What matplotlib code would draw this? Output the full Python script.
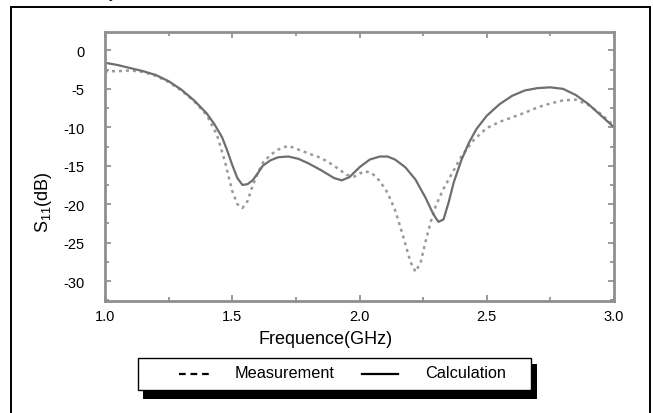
import matplotlib
matplotlib.use("Agg")
import matplotlib.pyplot as plt
from matplotlib.patches import Rectangle
from matplotlib.lines import Line2D
from matplotlib.ticker import MultipleLocator

plt.rcParams['font.family'] = ['Liberation Sans', 'DejaVu Sans']
plt.rcParams['mathtext.default'] = 'regular'
plt.rcParams['axes.unicode_minus'] = False

# S11 readings (GHz, dB)
calc_freq = [1.00, 1.05, 1.10, 1.15, 1.20, 1.25, 1.30, 1.35, 1.40, 1.43, 1.46,
             1.48, 1.50, 1.52, 1.54, 1.56, 1.58, 1.60, 1.62, 1.65, 1.68, 1.72,
             1.76, 1.80, 1.85, 1.90, 1.93, 1.96, 2.00, 2.04, 2.08, 2.11, 2.14,
             2.18, 2.22, 2.26, 2.29, 2.31, 2.33, 2.35, 2.37, 2.40, 2.43, 2.46,
             2.50, 2.55, 2.60, 2.65, 2.70, 2.75, 2.80, 2.85, 2.90, 2.95, 3.00]
calc_s11 = [-1.6, -1.9, -2.3, -2.7, -3.2, -4.0, -5.1, -6.5, -8.2, -9.6, -11.3,
            -13.0, -14.9, -16.6, -17.5, -17.4, -16.9, -16.0, -15.0, -14.3, -13.9, -13.8,
            -14.1, -14.7, -15.6, -16.6, -16.9, -16.5, -15.2, -14.2, -13.8, -13.8, -14.2,
            -15.2, -16.8, -19.2, -21.3, -22.3, -22.0, -19.8, -17.2, -14.3, -12.0, -10.2,
            -8.5, -7.0, -5.9, -5.2, -4.9, -4.8, -5.0, -5.8, -7.0, -8.5, -10.0]

meas_freq = [1.00, 1.05, 1.10, 1.15, 1.20, 1.25, 1.30, 1.35, 1.40, 1.44, 1.47,
             1.50, 1.52, 1.54, 1.56, 1.58, 1.60, 1.62, 1.65, 1.68, 1.72, 1.76,
             1.80, 1.85, 1.90, 1.95, 1.98, 2.02, 2.05, 2.08, 2.11, 2.14, 2.17,
             2.20, 2.22, 2.24, 2.26, 2.28, 2.30, 2.33, 2.36, 2.40, 2.45, 2.50,
             2.55, 2.60, 2.65, 2.70, 2.75, 2.80, 2.85, 2.90, 2.95, 3.00]
meas_s11 = [-2.7, -2.7, -2.6, -2.8, -3.3, -4.1, -5.2, -6.6, -8.4, -11.0, -14.3,
            -18.3, -20.0, -20.5, -19.6, -17.6, -16.0, -14.6, -13.6, -12.9, -12.4, -12.9,
            -13.4, -14.0, -15.0, -16.2, -16.4, -15.7, -16.0, -17.0, -18.5, -20.8, -24.0,
            -27.5, -28.8, -27.6, -24.8, -22.3, -20.2, -18.0, -16.2, -13.8, -11.6, -10.1,
            -9.3, -8.7, -8.1, -7.4, -6.9, -6.5, -6.4, -7.1, -8.3, -9.8]

x_ticks = [1.0, 1.5, 2.0, 2.5, 3.0]
y_ticks = [0, -5, -10, -15, -20, -25, -30]

W, H = 653, 414
fig = plt.figure(figsize=(W / 100, H / 100), dpi=100)

def fx(px):
    return px / W

def fy(py):
    return 1 - py / H

# outer frame (runs past the bottom edge)
fig.patches.append(Rectangle((fx(11), fy(430)), fx(650) - fx(11), fy(8) - fy(430),
                             transform=fig.transFigure, fill=False,
                             edgecolor='black', linewidth=1.4))
# bit of a caption above, cut off by the crop
fig.text(fx(113), 1.004, 'y', fontsize=12, va='baseline', ha='center')

ax = fig.add_axes([fx(105), fy(302), fx(614) - fx(105), fy(33) - fy(302)])

ax.plot(meas_freq, meas_s11, color='#9a9a9a', linestyle=(0, (1.2, 1.6)), linewidth=1.8)
ax.plot(calc_freq, calc_s11, color='#6e6e6e', linestyle='-', linewidth=1.6)

ax.set_xlim(1.0, 3.0)
ax.set_ylim(-32.6, 2.4)
ax.set_xticks(x_ticks)
ax.set_xticklabels([f'{t:.1f}' for t in x_ticks])
ax.set_yticks(y_ticks)
ax.set_yticklabels([str(t) for t in y_ticks])
ax.xaxis.set_minor_locator(MultipleLocator(0.25))
ax.yaxis.set_minor_locator(MultipleLocator(2.5))
ax.tick_params(which='both', direction='in', top=True, right=True,
               color='#8a8a8a', width=1.2, labelsize=10.5)
ax.tick_params(which='major', length=4)
ax.tick_params(which='minor', length=3)
ax.tick_params(axis='y', pad=15)
ax.tick_params(axis='x', pad=6)
for sp in ax.spines.values():
    sp.set_color('#8f8f8f')
    sp.set_linewidth(2.0)

fig.text(fx(326), fy(340), 'Frequence(GHz)', fontsize=13, ha='center', va='center')
fig.text(fx(44), fy(202), 'S$_{11}$(dB)', fontsize=13, ha='center', va='center',
         rotation=90)

# legend box with solid black shadow
fig.patches.append(Rectangle((fx(143), fy(400)), fx(537) - fx(143), fy(365) - fy(400),
                             transform=fig.transFigure, facecolor='black',
                             edgecolor='none'))
fig.patches.append(Rectangle((fx(138), fy(391)), fx(531) - fx(138), fy(359) - fy(391),
                             transform=fig.transFigure, facecolor='white',
                             edgecolor='black', linewidth=1.0))
fig.lines.append(Line2D([fx(179), fx(212)], [fy(375), fy(375)], transform=fig.transFigure,
                        color='black', linewidth=1.6, linestyle=(0, (3.0, 2.2))))
fig.text(fx(235), fy(374), 'Measurement', fontsize=11.7, ha='left', va='center')
fig.lines.append(Line2D([fx(362), fx(398)], [fy(375), fy(375)], transform=fig.transFigure,
                        color='black', linewidth=1.6))
fig.text(fx(425), fy(374), 'Calculation', fontsize=11.7, ha='left', va='center')

fig.savefig('out.png', dpi=100)
